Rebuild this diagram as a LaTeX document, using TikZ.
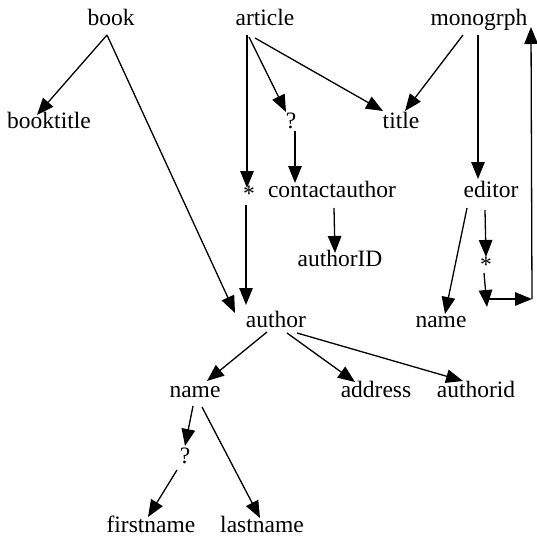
\documentclass[tikz,border=0pt]{standalone}
\usepackage{fontspec}
\setmainfont{Liberation Serif}
\usetikzlibrary{arrows.meta,calc}
\begin{document}
\begin{tikzpicture}[x=1pt,y=-1pt,
  lbl/.style={anchor=base,inner sep=0pt,font=\fontsize{23.5}{28}\selectfont},
  arr/.style={line width=1.3pt,-{Triangle[length=17pt,width=13.5pt]}},
  ln/.style={line width=1.3pt}]
\useasboundingbox (0,0) rectangle (537,538);
% nodes
\node[lbl] (book) at (111,25) {book};
\node[lbl] (article) at (265,25) {article};
\node[lbl] (monogrph) at (479,25) {monogrph};
\node[lbl] (booktitle) at (49,128) {booktitle};
\node[lbl] (q1) at (291,128) {?};
\node[lbl] (title) at (401,128) {title};
\node[lbl] (star1) at (249,201) {*};
\node[lbl] (contactauthor) at (332,197) {contactauthor};
\node[lbl] (editor) at (491,197) {editor};
\node[lbl] (authorID) at (340,266) {authorID};
\node[lbl] (star2) at (486,272) {*};
\node[lbl] (author) at (276,327) {author};
\node[lbl] (ename) at (441,327) {name};
\node[lbl] (name) at (195,397) {name};
\node[lbl] (address) at (376,397) {address};
\node[lbl] (authorid) at (476,397) {authorid};
\node[lbl] (q2) at (185,463) {?};
\node[lbl] (firstname) at (151,532) {firstname};
\node[lbl] (lastname) at (262,532) {lastname};
\coordinate (cornerD) at (487,307);
\coordinate (cornerH) at (487,299);
\coordinate (loopB) at (532,299);
\coordinate (loopT) at (531,27);
% connectors
\draw[arr] ($(book.base)+(-4,10)$) -- ($(booktitle.base)+(-12,-13)$);
\draw[arr] ($(book.base)+(-4,10)$) -- ($(author.base)+(-41,-14)$);
\draw[arr] ($(article.base)+(-18,10)$) -- ($(star1.base)+(-2,-13)$);
\draw[arr] ($(article.base)+(-16,12)$) -- ($(q1.base)+(-5,-16)$);
\draw[arr] ($(article.base)+(-10,13)$) -- ($(title.base)+(-18,-17)$);
\draw[arr] ($(monogrph.base)+(-16,10)$) -- ($(title.base)+(4,-17)$);
\draw[arr] ($(monogrph.base)+(-1,10)$) -- ($(editor.base)+(-13,-18)$);
\draw[arr] ($(q1.base)+(4,3)$) -- ($(contactauthor.base)+(-37,-14)$);
\draw[arr] ($(star1.base)+(-3,4)$) -- ($(author.base)+(-30,-22)$);
\draw[arr] ($(contactauthor.base)+(2,11)$) -- ($(authorID.base)+(-5,-13)$);
\draw[arr] ($(editor.base)+(-24,11)$) -- ($(ename.base)+(4,-13)$);
\draw[arr] ($(editor.base)+(-6,13)$) -- ($(star2.base)+(0,-15)$);
\draw[arr] ($(star2.base)+(-2,1)$) -- (cornerD);
\draw[arr] (cornerH) -- (loopB);
\draw[arr] (loopB) -- (loopT);
\draw[arr] ($(author.base)+(-9,5)$) -- ($(name.base)+(12,-16)$);
\draw[arr] ($(author.base)+(11,6)$) -- ($(address.base)+(-21,-15)$);
\draw[arr] ($(author.base)+(21,6)$) -- ($(authorid.base)+(-13,-16)$);
\draw[arr] ($(name.base)+(-2,9)$) -- ($(q2.base)+(0,-17)$);
\draw[arr] ($(q2.base)+(-8,7)$) -- ($(firstname.base)+(-3,-15)$);
\draw[arr] ($(name.base)+(7,10)$) -- ($(lastname.base)+(-2,-14)$);
\end{tikzpicture}
\end{document}
